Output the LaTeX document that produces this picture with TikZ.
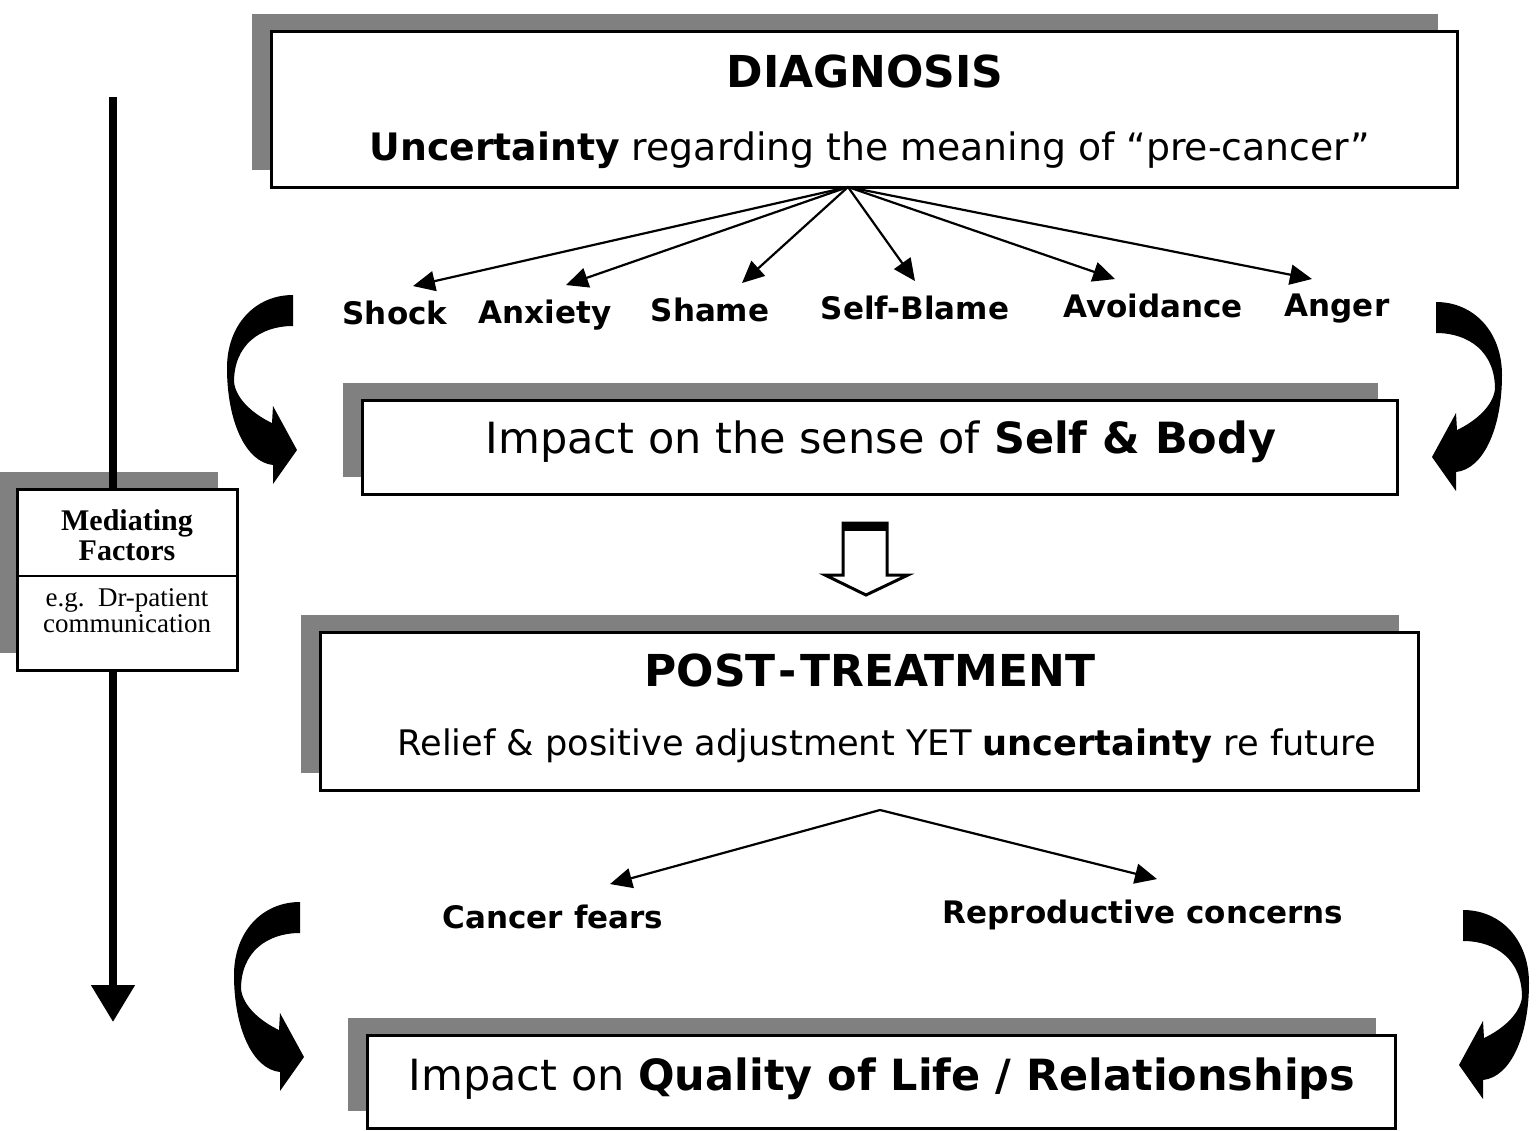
\documentclass[tikz,border=0pt]{standalone}
\usepackage{fontspec}
\newfontfamily\vfont{DejaVu Sans}
\newfontfamily\tfont{Liberation Serif}
\usetikzlibrary{arrows.meta,shadows}
\tikzset{
  box/.style={draw=black, line width=1.5pt, fill=white, inner sep=0pt, outer sep=0pt,
    drop shadow={shadow xshift=-9.5pt, shadow yshift=8.5pt, fill=black!50, opacity=1}},
  titletext/.style={anchor=base, inner sep=0pt, font=\vfont\bfseries\fontsize{22}{26}\selectfont},
  linetext/.style={anchor=base, inner sep=0pt, font=\vfont\fontsize{18.9}{22}\selectfont},
  linetextb/.style={anchor=base, inner sep=0pt, font=\vfont\fontsize{17.6}{22}\selectfont},
  bigtext/.style={anchor=base, inner sep=0pt, font=\vfont\fontsize{21.5}{26}\selectfont},
  emo/.style={anchor=base, inner xsep=0pt, inner ysep=7pt, font=\vfont\bfseries\fontsize{15.5}{19}\selectfont},
  mftitle/.style={anchor=base, inner sep=0pt, font=\tfont\bfseries\fontsize{15}{18}\selectfont},
  mftext/.style={anchor=base, inner sep=0pt, font=\tfont\fontsize{13.5}{16}\selectfont},
  thinarrow/.style={draw=black, line width=1.1pt, -{Triangle[length=11pt,width=10pt]}},
  mainline/.style={draw=black, line width=4pt},
  curvedarrow/.pic={
    \fill[black] (0,0) .. controls (-38,0) and (-66,30) .. (-66,73)
      .. controls (-66,125) and (-48,167) .. (-20,170) -- (-20,189) -- (4,155)
      -- (-20,111) -- (-21,128) .. controls (-38,120) and (-57,105) .. (-59,87)
      .. controls (-59,50) and (-33,31) .. (0,31) -- cycle;
  }
}
\begin{document}
\begin{tikzpicture}[x=0.5pt,y=-0.5pt]
\useasboundingbox (0,0) rectangle (1539,1131);

% boxes
\node[box, minimum width=593pt, minimum height=78pt] (D) at (864,109) {};
\node[box, minimum width=517.5pt, minimum height=47pt] (SB) at (879.5,447) {};
\node[box, minimum width=549pt, minimum height=79pt] (PT) at (869,711) {};
\node[box, minimum width=514pt, minimum height=46.5pt] (QL) at (881,1081.5) {};

% texts in boxes
\node[titletext] (dtitle) at (865,87) {DIAGNOSIS};
\node[linetext] (dline) at (870,160) {\textbf{Uncertainty} regarding the meaning of “pre-cancer”};
\node[bigtext] (sbtext) at (881,453) {Impact on the sense of \textbf{Self \& Body}};
\node[titletext] (pttitle) at (870,686) {POST{\kern1.5pt}-{\kern1.5pt}TREATMENT};
\node[linetextb] (ptline) at (887,755) {Relief \& positive adjustment YET \textbf{uncertainty} re future};
\node[bigtext] (qltext) at (882,1090) {Impact on \textbf{Quality of Life / Relationships}};

% emotion labels
\node[emo] (shock) at (395,324) {Shock};
\node[emo] (anxiety) at (545,323) {Anxiety};
\node[emo] (shame) at (710,321) {Shame};
\node[emo] (selfblame) at (915,319) {Self-Blame};
\node[emo] (avoid) at (1153,317) {Avoidance};
\node[emo] (anger) at (1337,316) {Anger};

\coordinate (dsrc) at ([xshift=-8pt]D.south);
\draw[thinarrow] (dsrc) -- ([xshift=9pt]shock.north);
\draw[thinarrow] (dsrc) -- ([xshift=10.5pt]anxiety.north);
\draw[thinarrow] (dsrc) -- ([xshift=16pt]shame.north);
\draw[thinarrow] (dsrc) -- (selfblame.north);
\draw[thinarrow] (dsrc) -- ([xshift=-19pt]avoid.north);
\draw[thinarrow] (dsrc) -- ([xshift=-12.5pt]anger.north);

% post-treatment outcomes
\node[emo] (cf) at (553,928) {Cancer fears};
\node[emo] (rc) at (1143,923) {Reproductive concerns};
\coordinate (ptsrc) at (880,810);
\draw[thinarrow] (ptsrc) -- ([xshift=28.5pt,yshift=3pt]cf.north);
\draw[thinarrow] (ptsrc) -- ([xshift=7pt,yshift=3pt]rc.north);

% hollow block arrow
\draw[line width=1.5pt, fill=white, line join=miter] (843,523) -- (887,523) -- (887,575) -- (908,575)
  -- (866,595) -- (825,575) -- (843,575) -- cycle;
\fill[black] (843,523) rectangle (887,531);

% curved arrows
\pic at (293,295) {curvedarrow};
\pic at (300,902) {curvedarrow};
\pic[xscale=-1] at (1436,302) {curvedarrow};
\pic[xscale=-1] at (1463,910) {curvedarrow};

% mediating factors
\coordinate (vtop) at (113,97);
\coordinate (vbot) at (113,1022);
\node[box, minimum width=110pt, minimum height=90.5pt] (MF) at (127,579.5) {};
\draw[mainline] (vtop) -- (vtop |- MF.north);
\draw[mainline, -{Triangle[width=21pt,length=18.5pt]}] (vtop |- MF.south) -- (vbot);
\draw[line width=1.2pt] (MF.west |- 0,576) -- (MF.east |- 0,576);
\node[mftitle] (mf1) at (127,530) {Mediating};
\node[mftitle] (mf2) at (127,560) {Factors};
\node[mftext] (mf3) at (127,606) {e.g.\ \ Dr-patient};
\node[mftext] (mf4) at (127,632) {communication};
\end{tikzpicture}
\end{document}
